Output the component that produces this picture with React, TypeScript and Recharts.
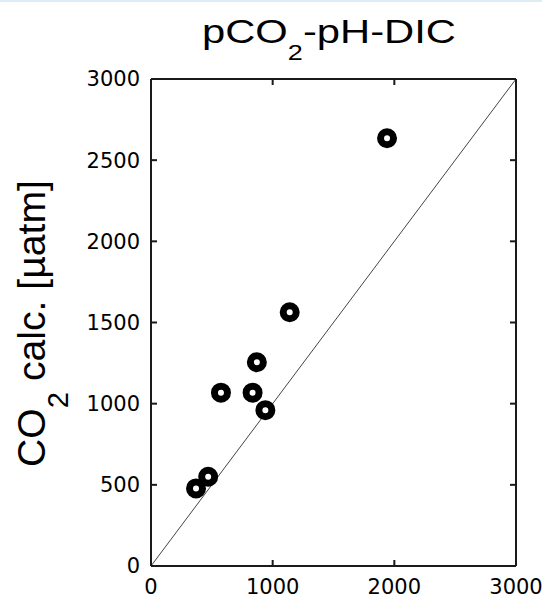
import {
  ScatterChart,
  Scatter,
  XAxis,
  YAxis,
  ReferenceLine,
} from "recharts";

// measured pCO2 (x) vs pCO2 calculated from pH-DIC (y), µatm
const measured = [370, 470, 575, 835, 870, 940, 1140, 1940];
const calculated = [478, 550, 1068, 1068, 1255, 960, 1563, 2635];

const xTicks = [0, 1000, 2000, 3000];
const yTicks = [0, 500, 1000, 1500, 2000, 2500, 3000];

const points = measured.map((x, i) => ({ x, y: calculated[i] }));

const W = 542;
const H = 597;
const axisColor = "#1a1a1a";
const tickFont = { fontSize: 21, fontFamily: "DejaVu Sans", fill: "#000" };

function Ring(props: any) {
  const { cx, cy } = props;
  return <circle cx={cx} cy={cy} r={6.5} fill="#fff" stroke="#000" strokeWidth={7} />;
}

// mirrored axes keep their tick marks but carry no labels
function Nothing() {
  return <g />;
}

export default function App() {
  return (
    <div style={{ position: "absolute", left: 0, top: 0, width: W, height: H, background: "#fff" }}>
      <div style={{ position: "absolute", left: 0, top: 0, width: W, height: 2, background: "#dcedf5" }} />
      <ScatterChart width={W} height={H} margin={{ top: 78, left: 91, right: 25, bottom: 0 }}>
        <XAxis
          xAxisId={0}
          type="number"
          dataKey="x"
          domain={[0, 3000]}
          ticks={xTicks}
          height={31}
          tickSize={-6}
          tickMargin={19}
          tick={tickFont}
          stroke={axisColor}
          strokeWidth={2}
        />
        <YAxis
          yAxisId={0}
          type="number"
          dataKey="y"
          domain={[0, 3000]}
          ticks={yTicks}
          width={60}
          tickSize={-6}
          tickMargin={17}
          tick={tickFont}
          stroke={axisColor}
          strokeWidth={2}
        />
        <XAxis
          xAxisId="t"
          orientation="top"
          type="number"
          dataKey="x"
          domain={[0, 3000]}
          ticks={xTicks}
          height={1}
          tickSize={-6}
          tick={Nothing}
          stroke={axisColor}
          strokeWidth={2}
        />
        <YAxis
          yAxisId="r"
          orientation="right"
          type="number"
          dataKey="y"
          domain={[0, 3000]}
          ticks={yTicks}
          width={1}
          tickSize={-6}
          tick={Nothing}
          stroke={axisColor}
          strokeWidth={2}
        />
        <ReferenceLine
          xAxisId={0}
          yAxisId={0}
          segment={[{ x: 0, y: 0 }, { x: 3000, y: 3000 }]}
          stroke="#444"
          strokeWidth={1}
        />
        <Scatter xAxisId="t" yAxisId="r" data={points} shape={Nothing} isAnimationActive={false} />
        <Scatter xAxisId={0} yAxisId={0} data={points} shape={Ring} isAnimationActive={false} />
      </ScatterChart>
      <svg
        width={W}
        height={H}
        style={{ position: "absolute", left: 0, top: 0, pointerEvents: "none" }}
      >
        <text
          x={329}
          y={43}
          textAnchor="middle"
          fontFamily="Liberation Sans, Arial, sans-serif"
          fontSize={34}
          textLength={254}
          lengthAdjust="spacingAndGlyphs"
          fill="#000"
        >
          pCO
          <tspan fontSize={22} dy={17}>2</tspan>
          <tspan dy={-17}>-pH-DIC</tspan>
        </text>
        <text
          transform="translate(45,323.5) rotate(-90)"
          textAnchor="middle"
          fontFamily="Liberation Sans, Arial, sans-serif"
          fontSize={39}
          textLength={287}
          lengthAdjust="spacingAndGlyphs"
          fill="#000"
        >
          CO
          <tspan fontSize={29} dy={23}>2</tspan>
          <tspan dy={-23}> calc. [µatm]</tspan>
        </text>
      </svg>
    </div>
  );
}
